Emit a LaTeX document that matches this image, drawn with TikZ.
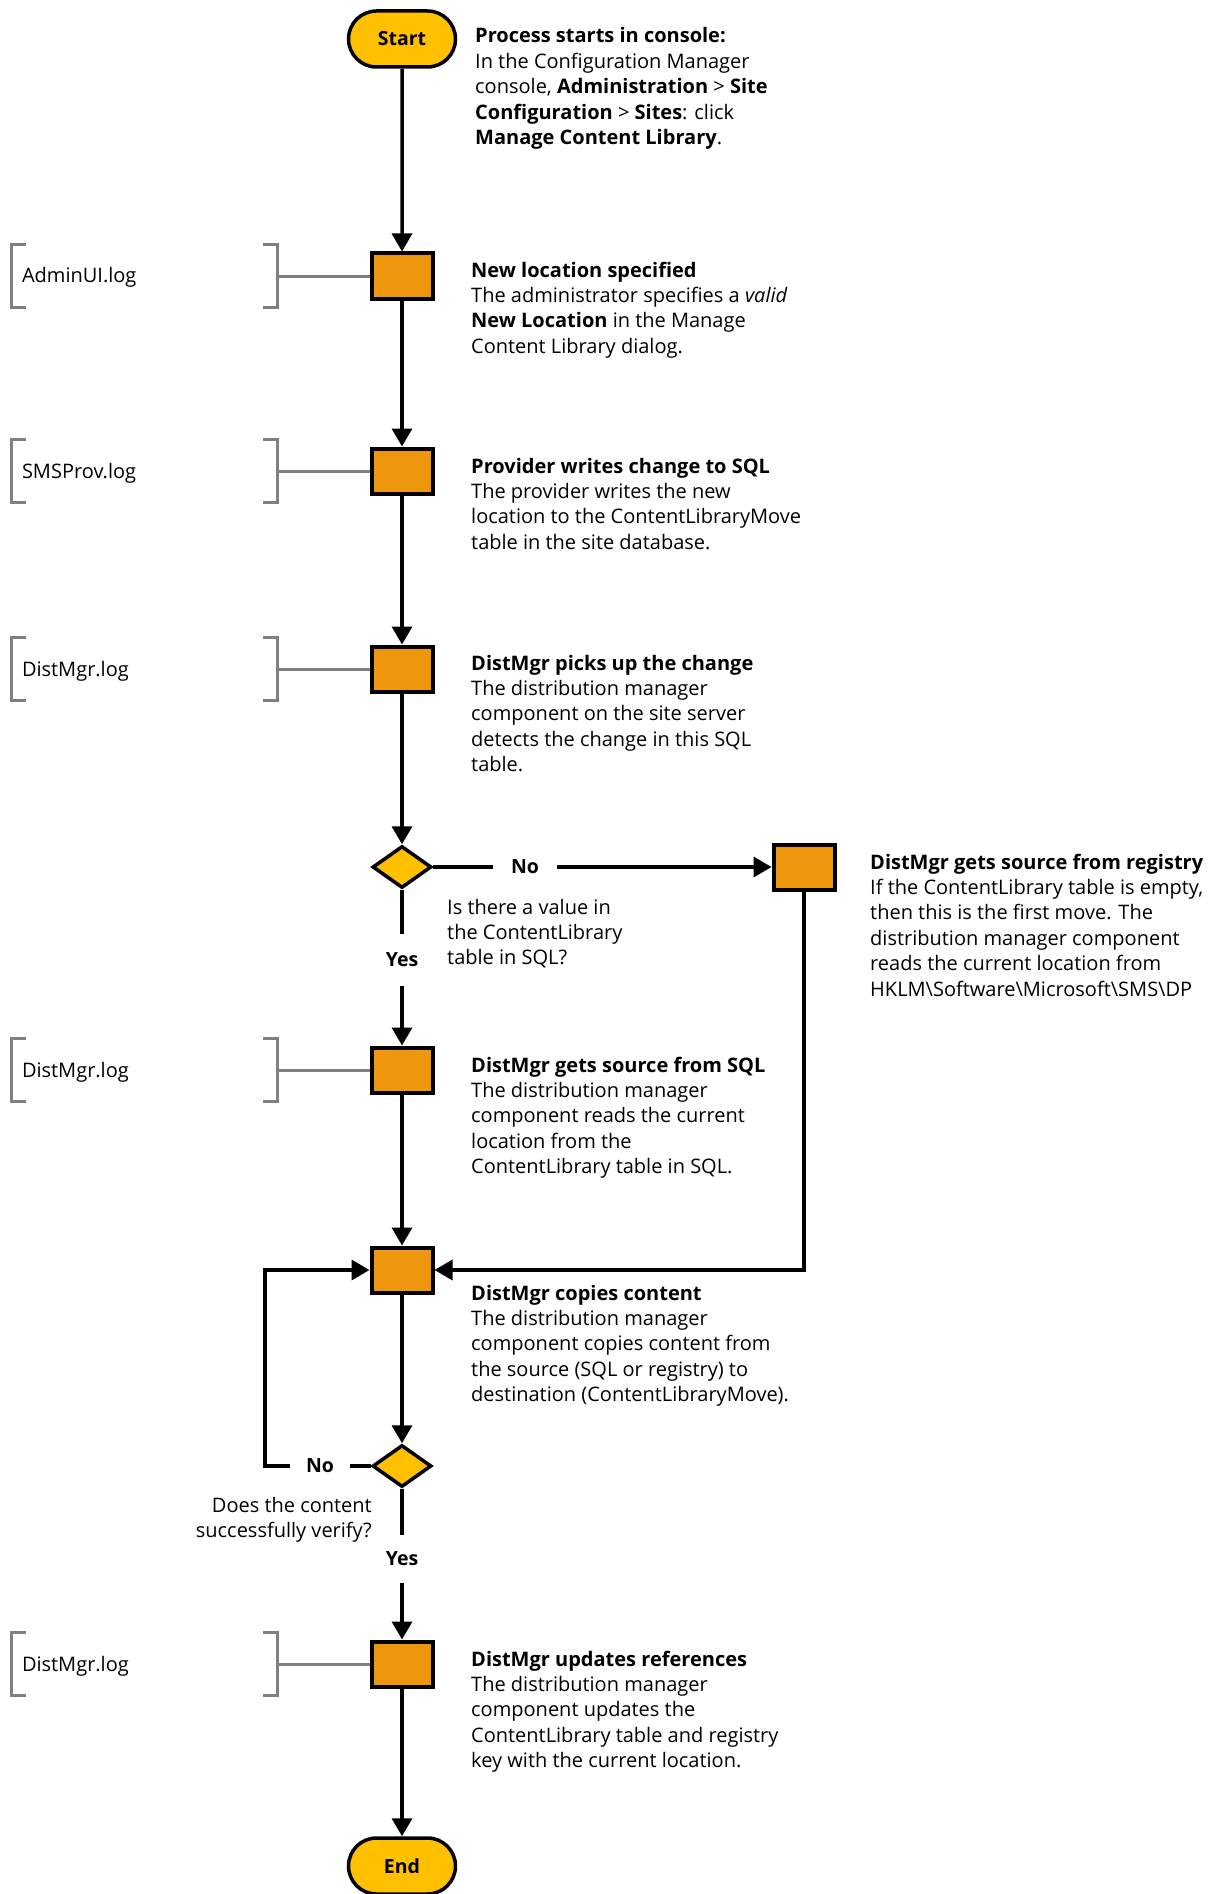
\documentclass[tikz,border=0pt]{standalone}
\usepackage{fontspec}
\setmainfont{Open Sans}
\usetikzlibrary{arrows.meta,shapes.geometric,shapes.misc}
\definecolor{boxor}{HTML}{EF960F}
\definecolor{termy}{HTML}{FFC000}
\definecolor{brk}{HTML}{808080}
\newcommand\txtfont{\fontsize{20}{25.4}\selectfont}
\newcommand\blk[1]{\begin{tabular}[t]{@{}l@{}}#1\end{tabular}}
\newcommand\blkr[1]{\begin{tabular}[t]{@{}r@{}}#1\end{tabular}}
\begin{document}
\begin{tikzpicture}[x=1pt,y=-1pt,
  conn/.style={line width=3.5pt,-{Triangle[width=20pt,length=18pt]}},
  plain/.style={line width=3.5pt},
  bracket/.style={line width=3pt,draw=brk},
  procbox/.style={draw,line width=4pt,fill=boxor,minimum width=61pt,minimum height=45pt,inner sep=0pt},
  decision/.style={diamond,draw,line width=3.5pt,fill=termy,minimum width=59pt,minimum height=42pt,inner sep=0pt},
  term/.style={rounded rectangle,draw,line width=3.5pt,fill=termy,minimum width=107pt,minimum height=56pt,inner sep=0pt,font=\fontsize{19.5}{22}\selectfont\bfseries},
  lognode/.style={minimum width=265pt,minimum height=62pt,text width=245pt,align=left,inner xsep=10pt,inner ysep=0pt,text height=15pt,text depth=1pt,font=\fontsize{20}{22}\selectfont},
  txt/.style={anchor=base west,inner sep=0pt,font=\txtfont},
  txtr/.style={anchor=base east,inner sep=0pt,font=\txtfont},
  lbl/.style={font=\fontsize{19.5}{20}\selectfont\bfseries,inner sep=0pt}
]
\useasboundingbox (0,0) rectangle (1215,1894);

% main shapes
\node[term] (start) at (402,39) {Start};
\node[procbox] (b1) at (402,276) {};
\node[procbox] (b2) at (402,471) {};
\node[procbox] (b3) at (402,669) {};
\node[decision] (d1) at (402,867) {};
\node[procbox] (reg) at (804,867) {};
\node[procbox] (b4) at (402,1070) {};
\node[procbox] (b5) at (402,1270) {};
\node[decision] (d2) at (402,1466) {};
\node[procbox] (b6) at (402,1664) {};
\node[term] (end) at (402,1866) {End};

% labels on connectors
\node[lbl,inner xsep=18pt] (no1) at (525,867) {No};
\node[lbl,inner ysep=19pt] (yes1) at (402,960) {Yes};
\node[lbl,inner xsep=16pt] (no2) at (320,1466) {No};
\node[lbl,inner ysep=17pt] (yes2) at (402,1559) {Yes};
\coordinate (lc) at (265,1466);

% connectors
\draw[conn] (start) -- (b1);
\draw[conn] (b1) -- (b2);
\draw[conn] (b2) -- (b3);
\draw[conn] (b3) -- (d1);
\draw[plain] (d1.east) -- (no1.west);
\draw[conn] (no1.east) -- (reg.west);
\draw[plain] (d1.south) -- (yes1.north);
\draw[conn] (yes1.south) -- (b4.north);
\draw[conn] (b4) -- (b5);
\draw[conn] (reg.south) |- (b5.east);
\draw[conn] (b5) -- (d2);
\draw[plain] (d2.west) -- (no2.east);
\draw[conn] (no2.west) -- (lc) |- (b5.west);
\draw[plain] (d2.south) -- (yes2.north);
\draw[conn] (yes2.south) -- (b6.north);
\draw[conn] (b6) -- (end);

% log files
\node[lognode] (l1) at (144.5,276) {AdminUI.log};
\node[lognode] (l2) at (144.5,471) {SMSProv.log};
\node[lognode] (l3) at (144.5,669) {DistMgr.log};
\node[lognode] (l4) at (144.5,1070) {DistMgr.log};
\node[lognode] (l5) at (144.5,1664) {DistMgr.log};
\foreach \n/\b in {1/b1,2/b2,3/b3,4/b4,5/b6}{
  \draw[bracket] ([xshift=14pt]l\n.north west) -- (l\n.north west) -- (l\n.south west) -- ([xshift=14pt]l\n.south west);
  \draw[bracket] ([xshift=-14pt]l\n.north east) -- (l\n.north east) -- (l\n.south east) -- ([xshift=-14pt]l\n.south east);
  \draw[bracket] (l\n.east) -- (\b.west);
}

% descriptions
\node[txt] (t0) at (475,43) {\blk{\textbf{Process starts in console:}\\
In the Configuration Manager\\
console, \textbf{Administration} > \textbf{Site}\\
\textbf{Configuration} > \textbf{Sites}: click\\
\textbf{Manage Content Library}.}};
\node[txt] (t1) at (471,277) {\blk{\textbf{New location specified}\\
The administrator specifies a \textit{valid}\\
\textbf{New Location} in the Manage\\
Content Library dialog.}};
\node[txt] (t2) at (471,473) {\blk{\textbf{Provider writes change to SQL}\\
The provider writes the new\\
location to the ContentLibraryMove\\
table in the site database.}};
\node[txt] (t3) at (471,670) {\blk{\textbf{DistMgr picks up the change}\\
The distribution manager\\
component on the site server\\
detects the change in this SQL\\
table.}};
\node[txt] (tq1) at (447,914) {\blk{Is there a value in\\
the ContentLibrary\\
table in SQL?}};
\node[txt] (tr) at (870,869) {\blk{\textbf{DistMgr gets source from registry}\\
If the ContentLibrary table is empty,\\
then this is the first move. The\\
distribution manager component\\
reads the current location from\\
HKLM\textbackslash Software\textbackslash Microsoft\textbackslash SMS\textbackslash DP}};
\node[txt] (t4) at (471,1072) {\blk{\textbf{DistMgr gets source from SQL}\\
The distribution manager\\
component reads the current\\
location from the\\
ContentLibrary table in SQL.}};
\node[txt] (t5) at (471,1300) {\blk{\textbf{DistMgr copies content}\\
The distribution manager\\
component copies content from\\
the source (SQL or registry) to\\
destination (ContentLibraryMove).}};
\node[txtr] (tq2) at (372,1512) {\blkr{Does the content\\
successfully verify?}};
\node[txt] (t6) at (471,1666) {\blk{\textbf{DistMgr updates references}\\
The distribution manager\\
component updates the\\
ContentLibrary table and registry\\
key with the current location.}};
\end{tikzpicture}
\end{document}
